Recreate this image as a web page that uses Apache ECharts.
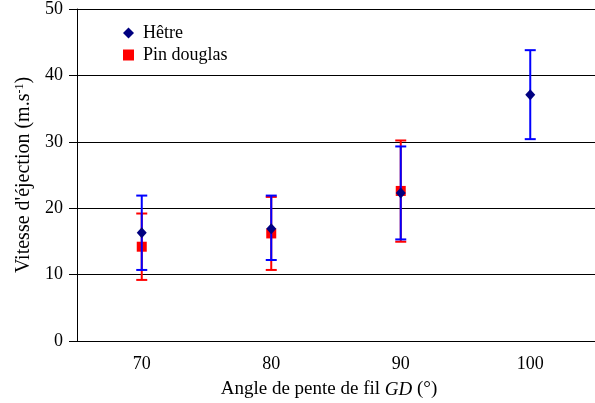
<!DOCTYPE html>
<html><head><meta charset="utf-8">
<script src="https://cdn.jsdelivr.net/npm/echarts@6/dist/echarts.min.js"></script>
<style>html,body{margin:0;padding:0;background:#fff}#c{width:595px;height:403px}</style>
</head><body><div id="c"></div>
<script>
const categories = ['70', '80', '90', '100'];
const hetreMean = [16.3, 16.9, 22.3, 37.1];
const hetreLow  = [10.7, 12.2, 15.3, 30.4];
const hetreHigh = [21.9, 21.9, 29.3, 43.8];
const pinMean = [14.2, 16.2, 22.6, null];
const pinLow  = [9.2, 10.7, 14.95, null];
const pinHigh = [19.2, 21.7, 30.2, null];

const serif = 'Liberation Serif';

function errData(low, high) {
  const out = [];
  for (let i = 0; i < categories.length; i++) {
    if (low[i] != null) out.push([i, low[i], high[i]]);
  }
  return out;
}
function errSeries(name, low, high, color, z) {
  return {
    type: 'custom', name: name + '_err', z: z, silent: true,
    data: errData(low, high),
    renderItem: function (params, api) {
      const x = api.value(0);
      const lo = api.coord([x, api.value(1)]);
      const hi = api.coord([x, api.value(2)]);
      const hw = 5.5;
      const st = { stroke: color, lineWidth: 2 };
      return { type: 'group', children: [
        { type: 'line', shape: { x1: lo[0], y1: lo[1], x2: hi[0], y2: hi[1] }, style: st },
        { type: 'line', shape: { x1: lo[0] - hw, y1: lo[1], x2: lo[0] + hw, y2: lo[1] }, style: st },
        { type: 'line', shape: { x1: hi[0] - hw, y1: hi[1], x2: hi[0] + hw, y2: hi[1] }, style: st }
      ]};
    }
  };
}

const chart = echarts.init(document.getElementById('c'), null, { renderer: 'canvas' });
chart.setOption({
  animation: false,
  grid: { left: 77, right: 0, top: 9, bottom: 62, containLabel: false, outerBoundsMode: 'none' },
  legend: {
    orient: 'vertical', left: 118, top: 19, itemGap: 4,
    itemWidth: 11, itemHeight: 11,
    textStyle: { fontFamily: serif, fontSize: 18, color: '#000', padding: [0, 0, 0, 4] },
    data: [
      { name: 'Hêtre', icon: 'diamond' },
      { name: 'Pin douglas', icon: 'rect' }
    ]
  },
  xAxis: {
    type: 'category', data: categories, boundaryGap: true,
    axisLine: { lineStyle: { color: '#000', width: 1 } },
    axisTick: { alignWithLabel: true, length: 7, lineStyle: { color: '#000' } },
    axisLabel: { fontFamily: serif, fontSize: 18, color: '#000', margin: 14 },
    name: '{n|Angle de pente de fil }{i|GD}{n| (°)}',
    nameLocation: 'middle', nameGap: 39,
    nameTextStyle: {
      padding: [0, 14, 0, 0],
      rich: {
        n: { fontFamily: serif, fontSize: 19, color: '#000' },
        i: { fontFamily: serif, fontSize: 19, color: '#000', fontStyle: 'italic' }
      }
    }
  },
  yAxis: {
    type: 'value', min: 0, max: 50, interval: 10,
    axisLine: { show: true, lineStyle: { color: '#000', width: 1 } },
    axisTick: { show: true, length: 8, lineStyle: { color: '#000' } },
    axisLabel: { fontFamily: serif, fontSize: 18, color: '#000', margin: 14 },
    splitLine: { show: true, lineStyle: { color: '#000', width: 1 } },
    name: '{n|Vitesse d\'éjection (m.s}{s|-1}{n|)}',
    nameLocation: 'middle', nameGap: 37, nameRotate: 90,
    nameTextStyle: {
      rich: {
        n: { fontFamily: serif, fontSize: 20, color: '#000' },
        s: { fontFamily: serif, fontSize: 12, color: '#000', verticalAlign: 'top', padding: [0, 0, 9, 0] }
      }
    }
  },
  series: [
    errSeries('Pin douglas', pinLow, pinHigh, '#ff0000', 2),
    { type: 'scatter', name: 'Pin douglas', symbol: 'rect', symbolSize: 10, z: 3,
      itemStyle: { color: '#ff0000', opacity: 1 }, data: pinMean },
    errSeries('Hêtre', hetreLow, hetreHigh, '#0000ff', 4),
    { type: 'scatter', name: 'Hêtre', symbol: 'diamond', symbolSize: [10, 11], z: 5,
      itemStyle: { color: '#000080', opacity: 1 }, data: hetreMean }
  ]
});
</script>
</body></html>
